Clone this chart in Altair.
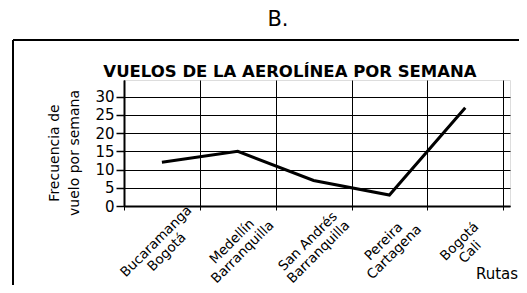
import altair as alt
import pandas as pd

routes = ["Bucaramanga\nBogotá", "Medellín\nBarranquilla", "San Andrés\nBarranquilla",
          "Pereira\nCartagena", "Bogotá\nCali"]
flights = [12, 15, 7, 3, 27]
y_ticks = [0, 5, 10, 15, 20, 25, 30]
x_bounds = [0, 1, 2, 3, 4, 5]

FONT = "DejaVu Sans"
W, H = 386, 126
TOTAL_W, TOTAL_H = 511, 277

df = pd.DataFrame({"pos": [i + 0.5 for i in range(len(routes))],
                   "route": routes, "flights": flights})

xs = alt.Scale(domain=[0, 5.09], nice=False, zero=False)
ys = alt.Scale(domain=[0, 34.6], nice=False)

line = alt.Chart(df).mark_line(color="black", strokeWidth=3).encode(
    x=alt.X("pos:Q", scale=xs,
            axis=alt.Axis(values=x_bounds, labels=False, title=None, grid=True,
                          gridColor="black", gridOpacity=1, gridWidth=1,
                          tickColor="black", tickSize=4, domainColor="black",
                          domainWidth=2)),
    y=alt.Y("flights:Q", scale=ys,
            axis=alt.Axis(values=y_ticks, title=None, grid=True, gridColor="black",
                          gridOpacity=1, gridWidth=1, tickColor="black", tickSize=8,
                          tickWidth=1.5, domainColor="black", domainWidth=2,
                          labelFont=FONT, labelFontSize=15, labelColor="black",
                          labelPadding=2)),
)

labels = alt.Chart(df).mark_text(font=FONT, fontSize=13.5, angle=315, align="center",
                                 baseline="middle", lineBreak="\n", lineHeight=15,
                                 color="black", dx=-8).encode(
    x=alt.X("pos:Q", scale=xs),
    y=alt.value(H + 30),
    text="route:N",
)

def txt(s, x, y, **kw):
    return alt.Chart(pd.DataFrame({"t": [s]})).mark_text(font=FONT, color="black",
                                                          baseline="middle", **kw).encode(
        x=alt.value(x), y=alt.value(y), text="t:N")

title_b = txt("B.", 154, -60, fontSize=21, align="center")
title_main = txt("VUELOS DE LA AEROLÍNEA POR SEMANA", 166, -8, fontSize=16.5,
                 fontWeight="bold", align="center")
ytitle = txt("Frecuencia de\nvuelo por semana", -69, 73, fontSize=14, align="center",
             angle=270, lineBreak="\n", lineHeight=20)
xtitle = txt("Rutas", 373, 194, fontSize=15, align="center")

frame_top = alt.Chart(pd.DataFrame({"a": [0]})).mark_rule(color="black", strokeWidth=2).encode(
    x=alt.value(-111), x2=alt.value(420), y=alt.value(-40))
frame_left = alt.Chart(pd.DataFrame({"a": [0]})).mark_rule(color="black", strokeWidth=2).encode(
    x=alt.value(-111), y=alt.value(-40), y2=alt.value(240))

chart = alt.layer(frame_top, frame_left, line, labels, title_b, title_main, ytitle,
                  xtitle).properties(
    width=W, height=H,
    autosize=alt.AutoSizeParams(type="none"),
    padding={"left": 116, "top": 72, "right": TOTAL_W - 116 - W,
             "bottom": TOTAL_H - 72 - H},
).configure_view(stroke=None).configure(background="white")

chart.save("out.html", embed_options={"renderer": "svg", "actions": False})
